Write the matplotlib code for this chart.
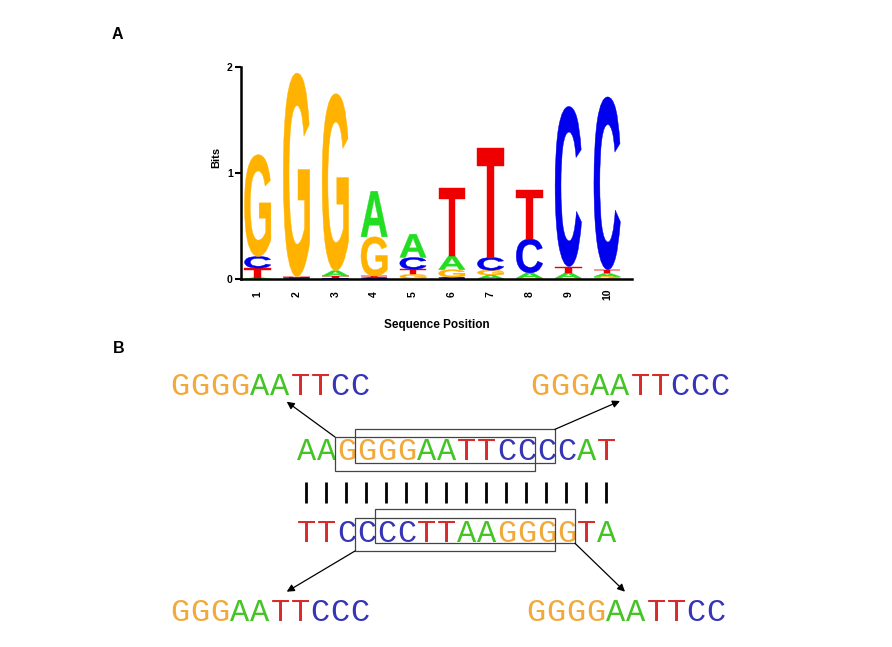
import matplotlib
matplotlib.use('Agg')
import matplotlib.pyplot as plt
from matplotlib.textpath import TextPath
from matplotlib.patches import PathPatch, Rectangle
from matplotlib.font_manager import FontProperties
from matplotlib.transforms import Affine2D

W, H = 892, 647

# --- panel A: sequence logo (bits per nucleotide at each position) ---
positions = list(range(1, 11))
bits_A = [0.01, 0.005, 0.05, 0.43, 0.22, 0.13, 0.035, 0.05, 0.05, 0.03]
bits_C = [0.11, 0.005, 0.005, 0.01, 0.11, 0.015, 0.12, 0.32, 1.51, 1.63]
bits_G = [0.96, 1.92, 1.67, 0.37, 0.04, 0.07, 0.045, 0.005, 0.005, 0.02]
bits_T = [0.09, 0.01, 0.02, 0.015, 0.05, 0.64, 1.03, 0.46, 0.06, 0.035]

# --- panel B: palindromic site on both strands ---
top_strand = "AAGGGGAATTCCCCAT"
bottom_strand = "TTCCCCTTAAGGGGTA"
site_top_left = "GGGGAATTCC"
site_top_right = "GGGAATTCCC"
site_bottom_left = "GGGAATTCCC"
site_bottom_right = "GGGGAATTCC"
# (strand, first index, last index) of each boxed site
boxes = [("top", 2, 11), ("top", 3, 12), ("bottom", 3, 12), ("bottom", 4, 13)]

logo_colors = {"A": "#22DD22", "C": "#0000EE", "G": "#FFB300", "T": "#EE0000"}
seq_colors = {"A": "#44C425", "C": "#3535B5", "G": "#F2A93B", "T": "#D92B2B"}

fig = plt.figure(figsize=(W / 100, H / 100), dpi=100)
fig.patch.set_facecolor('white')

ax = fig.add_axes([241 / W, 1 - 278.7 / H, (632 - 241) / W, (278.7 - 66.7) / H])
letter_font = FontProperties(family='Liberation Sans', weight='bold')


def draw_letter(ax, ch, x, y0, h, w, color):
    tp = TextPath((0, 0), ch, size=1, prop=letter_font)
    bb = tp.get_extents()
    tr = Affine2D().translate(-bb.x0, -bb.y0).scale(w / bb.width, h / bb.height).translate(x - w / 2, y0)
    ax.add_patch(PathPatch(tr.transform_path(tp), fc=color, ec=color, lw=0.3))


for i, pos in enumerate(positions):
    col = {"A": bits_A[i], "C": bits_C[i], "G": bits_G[i], "T": bits_T[i]}
    y = 0.0
    for ch, h in sorted(col.items(), key=lambda kv: kv[1]):
        draw_letter(ax, ch, pos, y, h, 0.68, logo_colors[ch])
        y += h

ax.set_xlim(0.57, 10.64)
ax.set_ylim(0, 2)
for s in ['top', 'right']:
    ax.spines[s].set_visible(False)
for s in ['left', 'bottom']:
    ax.spines[s].set_linewidth(1.8)
ax.set_xticks(positions)
ax.set_xticklabels([str(p) for p in positions], rotation=90, fontsize=7.5, va='center',
                   fontweight='bold', family='Liberation Sans')
ax.tick_params(axis='x', length=0, pad=11)
ax.set_yticks([0, 1, 2])
ax.set_yticklabels(['0', '1', '2'], fontsize=7.5, fontweight='bold', family='Liberation Sans')
ax.tick_params(axis='y', length=4, width=1.5, pad=2)

fig.text(216 / W, 1 - 157 / H, 'Bits', rotation=90, fontsize=8, fontweight='bold',
         family='Liberation Sans', ha='center', va='center')
fig.text(436.7 / W, 1 - 325 / H, 'Sequence Position', fontsize=8.5, fontweight='bold',
         family='Liberation Sans', ha='center', va='center')

# --- panel B drawn in pixel coordinates ---
axb = fig.add_axes([0, 0, 1, 1])
axb.set_xlim(0, W)
axb.set_ylim(H, 0)
axb.axis('off')
axb.patch.set_alpha(0)

pitch = 20
strand_x0 = 297
strand_base = {"top": 460, "bottom": 541.7}


def draw_seq(seq, x0, base):
    for i, ch in enumerate(seq):
        axb.text(x0 + pitch * i + pitch / 2, base, ch, color=seq_colors[ch], fontsize=23,
                 family='Liberation Mono', ha='center', va='baseline', zorder=2)


draw_seq(site_top_left, 170, 395)
draw_seq(site_top_right, 530, 395)
draw_seq(top_strand, strand_x0, strand_base["top"])
draw_seq(bottom_strand, strand_x0, strand_base["bottom"])
draw_seq(site_bottom_left, 170, 620.7)
draw_seq(site_bottom_right, 526, 620.7)

for i in range(len(top_strand)):
    xc = strand_x0 + pitch * i + pitch / 2 - 1
    axb.plot([xc, xc], [482, 503], color='black', lw=2, solid_capstyle='butt')

box_y = [(437, 470.7), (429.3, 462.7), (518.3, 551), (509.3, 543.3)]
rects = []
for (strand, a, b), (y0, y1) in zip(boxes, box_y):
    x0 = strand_x0 + pitch * a - 2
    x1 = strand_x0 + pitch * (b + 1) - 2
    axb.add_patch(Rectangle((x0, y0), x1 - x0, y1 - y0, fc='none', ec='#444444', lw=0.9, zorder=3))
    rects.append((x0, y0, x1, y1))

arrow_props = dict(arrowstyle='-|>', color='black', lw=0.9, mutation_scale=11, shrinkA=0, shrinkB=0)
axb.annotate('', xy=(286.7, 401.7), xytext=(rects[0][0], rects[0][1]), arrowprops=arrow_props)
axb.annotate('', xy=(620, 401), xytext=(rects[1][2], rects[1][1]), arrowprops=arrow_props)
axb.annotate('', xy=(286.7, 591.7), xytext=(rects[2][0], rects[2][3]), arrowprops=arrow_props)
axb.annotate('', xy=(625, 591.7), xytext=(rects[3][2], rects[3][3]), arrowprops=arrow_props)

axb.text(111.5, 39, 'A', fontsize=11.5, fontweight='bold', family='Liberation Sans', ha='left', va='baseline')
axb.text(112.5, 353, 'B', fontsize=11.5, fontweight='bold', family='Liberation Sans', ha='left', va='baseline')

fig.savefig('out.png', dpi=100, facecolor='white')
